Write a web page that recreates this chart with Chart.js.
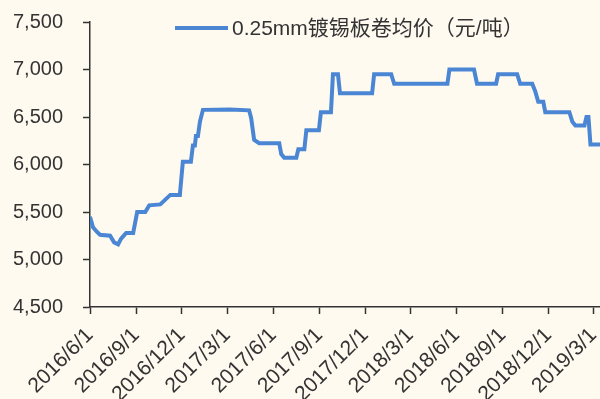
<!DOCTYPE html>
<html>
<head>
<meta charset="utf-8">
<script src="https://cdn.jsdelivr.net/npm/chart.js@4.4.1/dist/chart.umd.min.js"></script>
<style>
  html, body { margin: 0; padding: 0; background: #FFFAF0; }
  #price_chart { display: block; }
</style>
</head>
<body>
<canvas id="price_chart" width="600" height="399"></canvas>
<script>
const priceChartElement = document.getElementById('price_chart');

const seriesLabel = '0.25mm镀锡板卷均价（元/吨）';

// dates where the price line turns, and the price at each of them
const priceDates = [
  '2016/6/1', '2016/6/7', '2016/6/15', '2016/6/21', '2016/7/11', '2016/7/19',
  '2016/7/27', '2016/8/2', '2016/8/12', '2016/8/26', '2016/9/3', '2016/9/19',
  '2016/9/27', '2016/10/19', '2016/10/29', '2016/11/8', '2016/11/27', '2016/12/3',
  '2016/12/19', '2016/12/23', '2016/12/27', '2016/12/29', '2017/1/2', '2017/1/6',
  '2017/1/12', '2017/3/7',
  '2017/4/14', '2017/4/18', '2017/4/24', '2017/5/4', '2017/6/13', '2017/6/17',
  '2017/6/23', '2017/7/17', '2017/7/21', '2017/8/2', '2017/8/6', '2017/8/31',
  '2017/9/4', '2017/9/24', '2017/9/28', '2017/10/8', '2017/10/12', '2017/12/15',
  '2017/12/19', '2018/1/22', '2018/1/28', '2018/5/14', '2018/5/18', '2018/7/6',
  '2018/7/12', '2018/8/19', '2018/8/23', '2018/9/30', '2018/10/6', '2018/10/30',
  '2018/11/5', '2018/11/11', '2018/11/21', '2018/11/25', '2019/1/12', '2019/1/18',
  '2019/1/24', '2019/2/11', '2019/2/15', '2019/2/19', '2019/2/23', '2019/3/14'
];
const priceValues = [
  5450, 5340, 5290, 5260, 5250, 5180,
  5160, 5220, 5280, 5280, 5500, 5500,
  5570, 5580, 5630, 5680, 5680, 6030,
  6030, 6200, 6200, 6300, 6300, 6450,
  6575, 6580,
  6570, 6490, 6260, 6225, 6225, 6110,
  6070, 6070, 6160, 6160, 6360, 6360,
  6550, 6550, 6950, 6950, 6750, 6750,
  6950, 6950, 6850, 6850, 7000, 7000,
  6850, 6850, 6950, 6950, 6850, 6850,
  6770, 6660, 6660, 6550, 6550, 6450,
  6410, 6410, 6500, 6500, 6210, 6210
];

const tickDates = [
  '2016/6/1', '2016/9/1', '2016/12/1', '2017/3/1', '2017/6/1', '2017/9/1',
  '2017/12/1', '2018/3/1', '2018/6/1', '2018/9/1', '2018/12/1', '2019/3/1'
];
const yMin = 4500;
const yMax = 7500;
const yStep = 500;

const lineColor = '#4A86D4';
const textColor = '#333333';
const axisColor = '#333333';

// days since the first date, used as the x value
function dayOf(dateText) {
  const [y, m, d] = dateText.split('/').map(Number);
  return Math.round((Date.UTC(y, m - 1, d) - Date.UTC(2016, 5, 1)) / 86400000);
}

const legendLine = {
  id: 'legendLine',
  afterDraw(chart) {
    const ctx = chart.ctx;
    const dataset = chart.data.datasets[0];
    ctx.save();
    ctx.strokeStyle = dataset.borderColor;
    ctx.lineWidth = 4;
    ctx.beginPath();
    ctx.moveTo(175, 28);
    ctx.lineTo(228, 28);
    ctx.stroke();
    ctx.font = '21px "Liberation Sans", "Noto Sans CJK SC", sans-serif';
    ctx.fillStyle = textColor;
    ctx.textBaseline = 'middle';
    ctx.fillText(dataset.label, 232, 29);
    ctx.restore();
  }
};

const config = {
  type: 'line',
  data: {
    datasets: [{
      label: seriesLabel,
      data: priceDates.map((d, i) => ({ x: dayOf(d), y: priceValues[i] })),
      borderColor: lineColor,
      borderWidth: 4,
      pointRadius: 0,
      tension: 0,
      fill: false
    }]
  },
  options: {
    responsive: false,
    animation: false,
    layout: {
      padding: { top: 22, right: 0, bottom: 0, left: 0 }
    },
    plugins: {
      legend: { display: false },
      tooltip: { enabled: false }
    },
    scales: {
      x: {
        type: 'linear',
        min: 0,
        max: dayOf('2019/3/14'),
        afterBuildTicks: (scale) => {
          scale.ticks = tickDates.map(d => ({ value: dayOf(d) }));
        },
        afterFit: (scale) => {
          scale.height = 92;
          scale.paddingLeft = 0;
          scale.paddingRight = 0;
        },
        grid: {
          drawOnChartArea: false,
          drawTicks: true,
          tickLength: 7,
          tickWidth: 1.5,
          color: axisColor
        },
        border: { display: true, color: axisColor, width: 1.5 },
        ticks: {
          autoSkip: false,
          minRotation: 45,
          maxRotation: 45,
          padding: 9,
          color: textColor,
          font: { family: '"Liberation Sans", Arial, sans-serif', size: 21 },
          callback: (value) => tickDates.find(d => dayOf(d) === value) || ''
        }
      },
      y: {
        min: yMin,
        max: yMax,
        afterFit: (scale) => {
          scale.width = 90;
          scale.paddingTop = 0;
          scale.paddingBottom = 0;
        },
        grid: {
          drawOnChartArea: false,
          drawTicks: true,
          tickLength: 7,
          tickWidth: 1.5,
          color: axisColor
        },
        border: { display: true, color: axisColor, width: 1.5 },
        ticks: {
          stepSize: yStep,
          padding: 20,
          color: textColor,
          font: { family: '"Liberation Sans", Arial, sans-serif', size: 20 },
          callback: (value) => value.toLocaleString('en-US')
        }
      }
    }
  },
  plugins: [legendLine]
};

priceChart = new Chart(priceChartElement, config);
</script>
</body>
</html>
